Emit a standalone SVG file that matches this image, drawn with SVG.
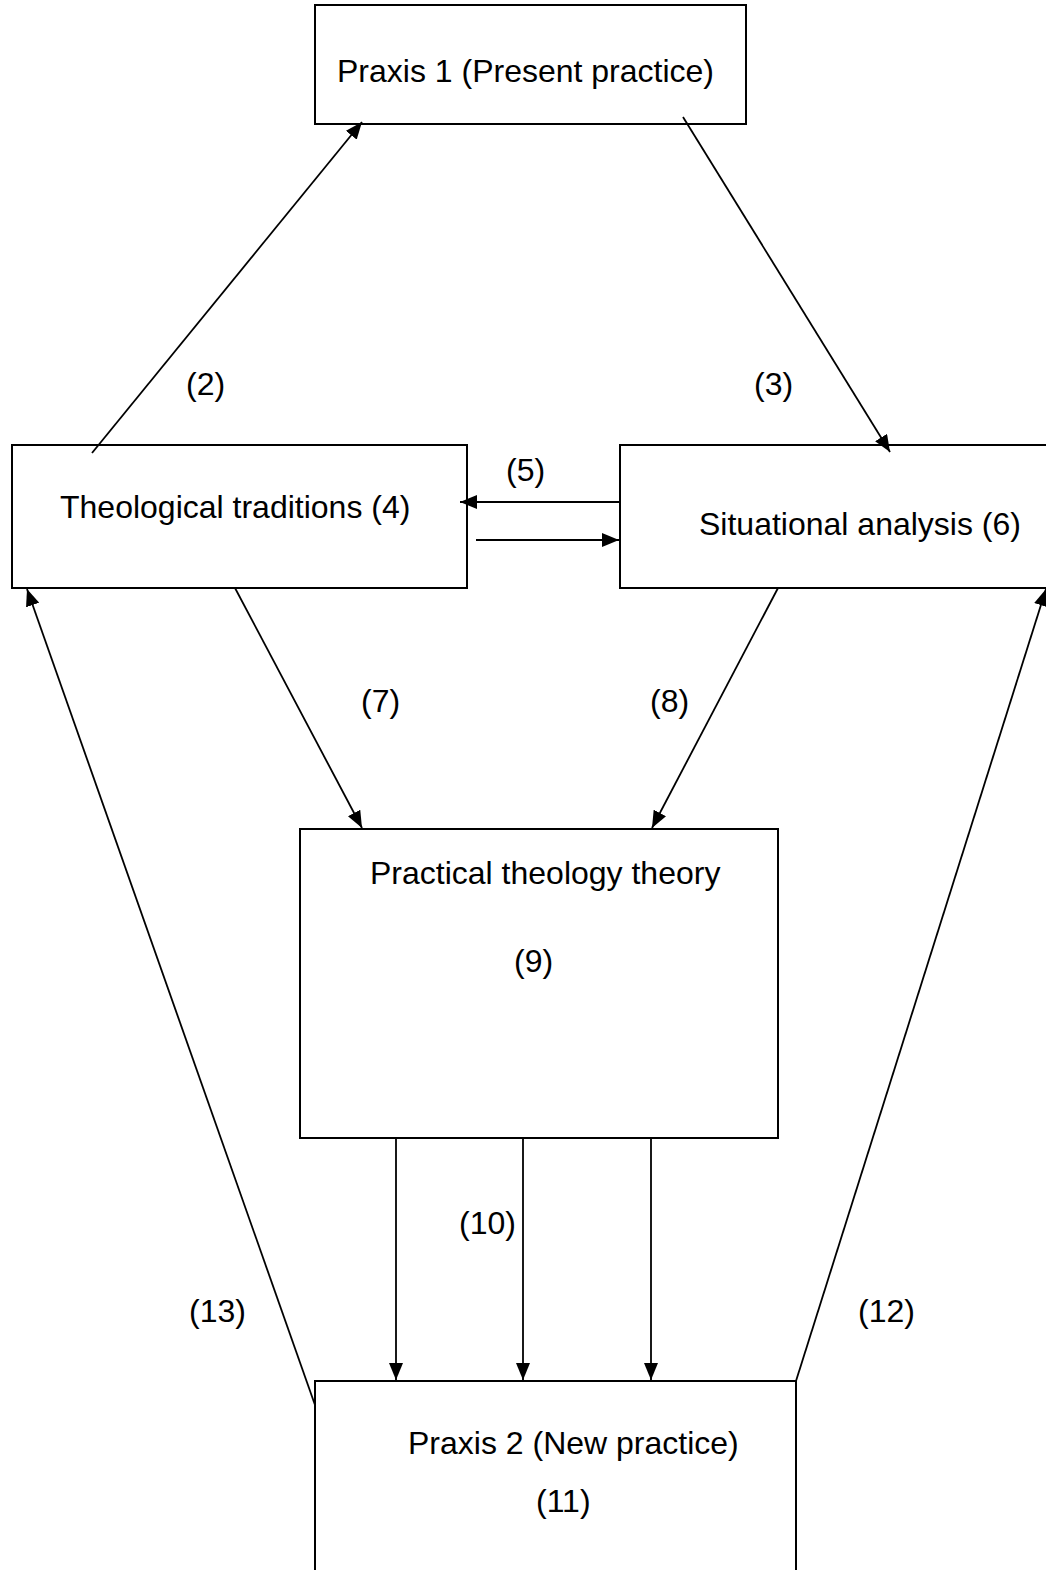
<svg xmlns="http://www.w3.org/2000/svg" width="1046" height="1570" viewBox="0 0 1046 1570">
<style>
.box{fill:#fff;stroke:#000;stroke-width:2}
.t{font-family:"Liberation Sans",Arial,sans-serif;font-size:32px;fill:#000}
.c{stroke:#000;stroke-width:1.8;fill:none}
</style>
<defs>
<marker id="ah" markerUnits="userSpaceOnUse" markerWidth="18" markerHeight="14" refX="17" refY="7" orient="auto">
<path d="M0,0 L17,7 L0,14 Z" fill="#000"/>
</marker>
</defs>
<rect width="1046" height="1570" fill="#fff"/>
<g id="praxis1"><rect class="box" x="315" y="5" width="431" height="119"/><text class="t" x="337" y="82">Praxis 1 (Present practice)</text></g>
<g id="theological"><rect class="box" x="12" y="445" width="455" height="143"/><text class="t" x="60" y="518">Theological traditions (4)</text></g>
<g id="situational"><rect class="box" x="620" y="445" width="440" height="143"/><text class="t" x="699" y="535">Situational analysis (6)</text></g>
<g id="practical"><rect class="box" x="300" y="829" width="478" height="309"/><text class="t" x="370" y="884">Practical theology theory</text><text class="t" x="514" y="972">(9)</text></g>
<g id="praxis2"><rect class="box" x="315" y="1381" width="481" height="200"/><text class="t" x="408" y="1454">Praxis 2 (New practice)</text><text class="t" x="536" y="1512">(11)</text></g>
<g id="connectors">
<line class="c" x1="92" y1="453" x2="362" y2="122" marker-end="url(#ah)"/>
<line class="c" x1="683" y1="117" x2="890" y2="452" marker-end="url(#ah)"/>
<line class="c" x1="619" y1="502" x2="460" y2="502" marker-end="url(#ah)"/>
<line class="c" x1="476" y1="540" x2="619" y2="540" marker-end="url(#ah)"/>
<line class="c" x1="235" y1="588" x2="362" y2="828" marker-end="url(#ah)"/>
<line class="c" x1="778" y1="588" x2="652" y2="828" marker-end="url(#ah)"/>
<line class="c" x1="396" y1="1138" x2="396" y2="1380" marker-end="url(#ah)"/>
<line class="c" x1="523" y1="1138" x2="523" y2="1380" marker-end="url(#ah)"/>
<line class="c" x1="651" y1="1138" x2="651" y2="1380" marker-end="url(#ah)"/>
<line class="c" x1="315" y1="1405" x2="27" y2="589" marker-end="url(#ah)"/>
<line class="c" x1="796" y1="1381" x2="1046" y2="589" marker-end="url(#ah)"/>
<text class="t" x="186" y="395">(2)</text>
<text class="t" x="754" y="395">(3)</text>
<text class="t" x="506" y="481">(5)</text>
<text class="t" x="361" y="712">(7)</text>
<text class="t" x="650" y="712">(8)</text>
<text class="t" x="459" y="1234">(10)</text>
<text class="t" x="189" y="1322">(13)</text>
<text class="t" x="858" y="1322">(12)</text>
</g>
</svg>
